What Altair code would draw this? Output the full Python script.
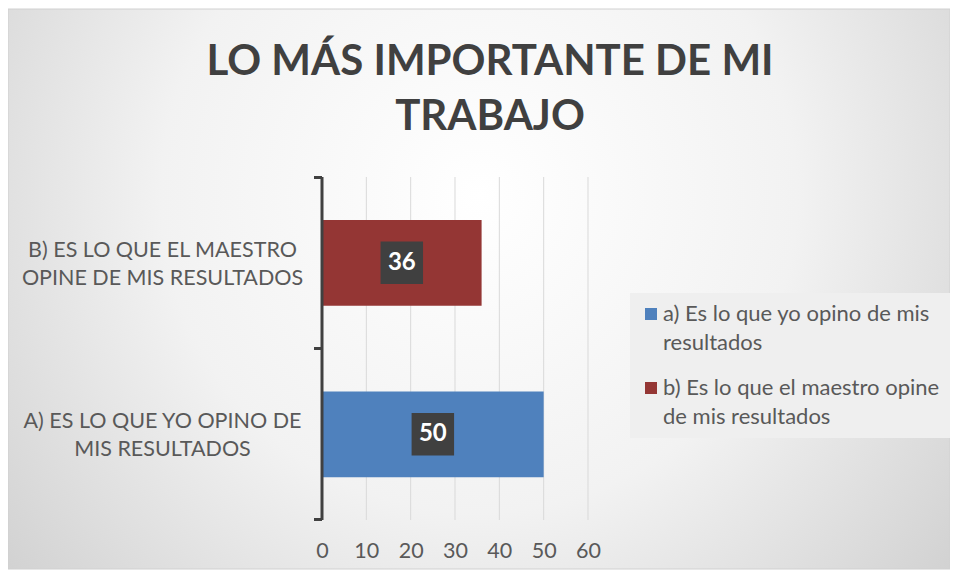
import altair as alt
import pandas as pd

# ---- data ----
categories = [
    "A) ES LO QUE YO OPINO DE\nMIS RESULTADOS",
    "B) ES LO QUE EL MAESTRO\nOPINE DE MIS RESULTADOS",
]
series = [
    "a) Es lo que yo opino de mis\nresultados",
    "b) Es lo que el maestro opine\nde mis resultados",
]
values = [50, 36]
colors = ["#4F81BD", "#943634"]
x_ticks = [0, 10, 20, 30, 40, 50, 60]
title_lines = ["LO MÁS IMPORTANTE DE MI", "TRABAJO"]

df = pd.DataFrame({"cat": categories, "serie": series, "value": values})
grid_df = pd.DataFrame({"tick": x_ticks[1:]})

W, H = 266, 343
PL, PT, PR, PB = 314, 169, 362, 50
FONT = "Lato"
GRAY = "#595959"
ysort = [categories[1], categories[0]]

bg = alt.Chart(pd.DataFrame({"k": [0]})).mark_rect(
    fill=alt.RadialGradient(
        gradient="radial",
        stops=[
            alt.GradientStop(color="#ffffff", offset=0),
            alt.GradientStop(color="#f2f2f2", offset=0.45),
            alt.GradientStop(color="#c6c6c6", offset=1),
        ],
        x1=0.5, y1=0.4, x2=0.5, y2=0.4, r1=0, r2=0.75,
    ),
    stroke="#d0d0d0",
    strokeWidth=1,
).encode(
    x=alt.value(-PL), x2=alt.value(W + PR),
    y=alt.value(-PT + 1), y2=alt.value(H + PB - 1),
)

xscale = alt.Scale(domain=[0, 60], nice=False)

grid = alt.Chart(grid_df).mark_rule(color="#d9d9d9", strokeWidth=1).encode(
    x=alt.X("tick:Q", scale=xscale),
    y=alt.value(0), y2=alt.value(H),
)

y_enc = alt.Y(
    "cat:N",
    sort=ysort,
    scale=alt.Scale(paddingInner=0.5, paddingOuter=0.25),
    axis=alt.Axis(
        title=None, domain=False, ticks=False, zindex=1,
        labelExpr="split(datum.label, '\\n')",
        labelAlign="center", labelPadding=160, labelOffset=-12,
        labelFontSize=21.5, labelLineHeight=28, labelFont=FONT,
        labelColor=GRAY, labelLimit=400,
    ),
)
x_enc = alt.X(
    "value:Q",
    scale=xscale,
    axis=alt.Axis(
        title=None, values=x_ticks, domain=False, ticks=False,
        grid=False, zindex=1, labelFlush=False,
        labelFontSize=21.5, labelFont=FONT, labelColor=GRAY,
        labelPadding=20,
    ),
)

bars = alt.Chart(df).mark_bar().encode(
    x=x_enc,
    y=y_enc,
    color=alt.Color(
        "serie:N",
        scale=alt.Scale(domain=series, range=colors),
        legend=alt.Legend(
            title=None, orient="none", legendX=308, legendY=116,
            fillColor="#efefef", padding=10,
            labelExpr="split(datum.label, '\\n')",
            labelFontSize=22, labelFont=FONT,
            labelColor=GRAY, labelLimit=400,
            symbolType="square", symbolSize=144, symbolStrokeWidth=0,
            rowPadding=23, labelOffset=1, zindex=1,
        ),
    ),
)

boxes = alt.Chart(df).transform_calculate(mid="datum.value / 2").mark_point(
    shape="square", size=44 * 41, filled=True, color="#404040", opacity=1
).encode(x="mid:Q", y=alt.Y("cat:N", sort=ysort))

labels = alt.Chart(df).transform_calculate(mid="datum.value / 2").mark_text(
    color="white", fontSize=24, fontWeight="bold", font=FONT
).encode(
    x="mid:Q",
    y=alt.Y("cat:N", sort=ysort),
    text="value:Q",
)

bracket_df = pd.DataFrame({"k": [0]})
vline = alt.Chart(bracket_df).mark_rule(color="#404040", strokeWidth=3).encode(
    x=alt.value(0), y=alt.value(0), y2=alt.value(H)
)
t1 = alt.Chart(bracket_df).mark_rule(color="#404040", strokeWidth=3).encode(
    x=alt.value(-8), x2=alt.value(0), y=alt.value(0.5)
)
t2 = alt.Chart(bracket_df).mark_rule(color="#404040", strokeWidth=3).encode(
    x=alt.value(-8), x2=alt.value(0), y=alt.value(H / 2)
)
t3 = alt.Chart(bracket_df).mark_rule(color="#404040", strokeWidth=3).encode(
    x=alt.value(-8), x2=alt.value(0), y=alt.value(H - 0.5)
)

chart = alt.layer(bg, grid, bars, boxes, labels, vline, t1, t2, t3).properties(
    width=W,
    height=H,
    autosize=alt.AutoSizeParams(type="none"),
    padding={"left": PL, "top": PT, "right": PR, "bottom": PB},
    title=alt.TitleParams(
        text=title_lines, fontSize=42, font=FONT, fontWeight="bold",
        color="#404040", anchor="middle", frame="group", dx=35,
        offset=0, dy=130, lineHeight=55, zindex=1,
    ),
    background="white",
).configure_view(stroke=None).configure(
    style={"guide-label": {"lineHeight": 29}}
)

chart.save("out.html", embed_options={"renderer": "svg", "actions": False})
